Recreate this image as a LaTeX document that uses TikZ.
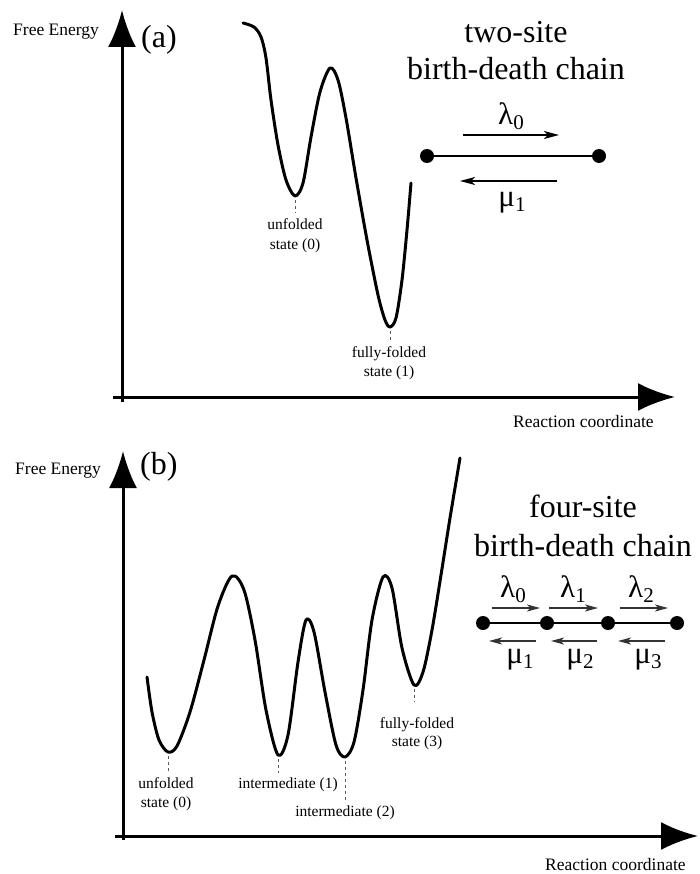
\documentclass[tikz,border=0pt]{standalone}
\usepackage{fontspec}
\setmainfont{Liberation Serif}
\usetikzlibrary{arrows.meta}
\newcommand\lsub[1]{\raisebox{-5pt}{\fontsize{21}{21}\selectfont #1}}
\begin{document}
\begin{tikzpicture}[x=1pt,y=-1pt,
  axis/.style={line width=3pt,-{Latex[length=37pt,width=28pt]}},
  curve/.style={line width=3pt,line join=round,line cap=round},
  guide/.style={gray!70!black,line width=1pt,dash pattern=on 3pt off 3pt},
  axlabel/.style={font=\fontsize{17.5}{20}\selectfont,inner sep=0pt,anchor=base west},
  panel/.style={font=\fontsize{32}{36}\selectfont,inner sep=0pt,anchor=base west},
  state/.style={font=\fontsize{15.5}{19}\selectfont,inner sep=0pt,anchor=base},
  title/.style={font=\fontsize{32}{37}\selectfont,inner sep=0pt,anchor=base},
  rate/.style={font=\fontsize{31}{33}\selectfont,inner sep=0pt,anchor=base},
  site/.style={circle,fill=black,minimum size=14pt,inner sep=0pt},
  chainline/.style={line width=2pt},
  ratearrow/.style={line width=1.1pt,-{Stealth[length=15pt,width=8pt,inset=4pt]}},
  ratearrowb/.style={line width=1.1pt,black!80,-{Stealth[length=13pt,width=7pt,inset=3.5pt]}}
]
\useasboundingbox (0,0) rectangle (699,874);

% ---------------- panel (a) ----------------
\coordinate (aO1) at (122,402);
\coordinate (aY) at (122,10);
\coordinate (aO2) at (113,397);
\coordinate (aX) at (675,397);
\draw[axis] (aO1) -- (aY);
\draw[axis] (aO2) -- (aX);
\node[axlabel] (aFE) at (13,36) {Free Energy};
\node[panel] (aP) at (141,48) {(a)};
\node[axlabel] (aRC) at (513,427) {Reaction coordinate};

\draw[curve] plot[smooth,tension=0.5] coordinates {
 (243,23) (254,27) (261,37) (266,58) (271,100) (278,145) (286,180) (295,196)
 (303,183) (311,137) (320,92) (330,68) (338,80) (346,118) (356,178)
 (367,240) (378,295) (385,320) (390,327) (396,318) (402,280) (407,230) (411,183)};

\coordinate (am0) at (295,200);
\coordinate (am0e) at (295,213);
\draw[guide] (am0) -- (am0e);
\node[state] (aS0a) at (295,230) {unfolded};
\node[state] (aS0b) at (295,250) {state (0)};
\coordinate (am1) at (390,331);
\coordinate (am1e) at (390,343);
\draw[guide] (am1) -- (am1e);
\node[state] (aS1a) at (389,357) {fully-folded};
\node[state] (aS1b) at (389,376) {state (1)};

\node[title] (aT1) at (516,43) {two-site};
\node[title] (aT2) at (516,80) {birth-death chain};

\node[site] (a0) at (427,156) {};
\node[site] (a1) at (599,156) {};
\draw[chainline] (a0) -- (a1);
\coordinate (al0s) at (463,135);
\coordinate (al0e) at (559,135);
\draw[ratearrow] (al0s) -- (al0e);
\coordinate (am1s) at (557,181);
\coordinate (am1t) at (460,181);
\draw[ratearrow] (am1s) -- (am1t);
\node[rate] (aL0) at (511,125) {λ\lsub{0}};
\node[rate] (aM1) at (512,207) {μ\lsub{1}};

% ---------------- panel (b) ----------------
\coordinate (bO1) at (123,840);
\coordinate (bY) at (123,451);
\coordinate (bO2) at (115,836);
\coordinate (bX) at (698,836);
\draw[axis] (bO1) -- (bY);
\draw[axis] (bO2) -- (bX);
\node[axlabel] (bFE) at (15,474) {Free Energy};
\node[panel] (bP) at (140,474) {(b)};
\node[axlabel] (bRC) at (545,870) {Reaction coordinate};

\draw[curve] plot[smooth,tension=0.5] coordinates {
 (147,677) (152,712) (159,740) (168,752) (177,746) (190,712) (204,660)
 (218,606) (232,576) (244,590) (255,640) (266,710) (278,755)
 (288,735) (298,662) (306,620) (314,632) (325,692) (336,745) (345,757)
 (354,742) (363,690) (372,620) (383,577) (392,588) (402,648) (414,685)
 (423,672) (432,630) (441,575) (450,518) (460,458)};

\coordinate (bm0) at (168,756);
\coordinate (bm0e) at (168,772);
\draw[guide] (bm0) -- (bm0e);
\node[state] (bS0a) at (166,788) {unfolded};
\node[state] (bS0b) at (166,807) {state (0)};
\coordinate (bm1) at (278,759);
\coordinate (bm1e) at (278,773);
\draw[guide] (bm1) -- (bm1e);
\node[state] (bS1) at (288,788) {intermediate (1)};
\coordinate (bm2) at (345,761);
\coordinate (bm2e) at (345,803);
\draw[guide] (bm2) -- (bm2e);
\node[state] (bS2) at (345,816) {intermediate (2)};
\coordinate (bm3) at (414,689);
\coordinate (bm3e) at (414,702);
\draw[guide] (bm3) -- (bm3e);
\node[state] (bS3a) at (417,728) {fully-folded};
\node[state] (bS3b) at (417,746) {state (3)};

\node[title] (bT1) at (583,517) {four-site};
\node[title] (bT2) at (583,556) {birth-death chain};

\node[site] (b0) at (483,623) {};
\node[site] (b1) at (547,623) {};
\node[site] (b2) at (608,623) {};
\node[site] (b3) at (677,623) {};
\draw[chainline] (b0) -- (b1) -- (b2) -- (b3);

\coordinate (bl0s) at (492,608); \coordinate (bl0e) at (540,608);
\coordinate (bl1s) at (549,608); \coordinate (bl1e) at (598,608);
\coordinate (bl2s) at (620,608); \coordinate (bl2e) at (668,608);
\draw[ratearrowb] (bl0s) -- (bl0e);
\draw[ratearrowb] (bl1s) -- (bl1e);
\draw[ratearrowb] (bl2s) -- (bl2e);
\coordinate (bu1s) at (536,641); \coordinate (bu1e) at (489,641);
\coordinate (bu2s) at (597,641); \coordinate (bu2e) at (551,641);
\coordinate (bu3s) at (665,641); \coordinate (bu3e) at (618,641);
\draw[ratearrowb] (bu1s) -- (bu1e);
\draw[ratearrowb] (bu2s) -- (bu2e);
\draw[ratearrowb] (bu3s) -- (bu3e);

\node[rate] (bL0) at (513,597) {λ\lsub{0}};
\node[rate] (bL1) at (573,597) {λ\lsub{1}};
\node[rate] (bL2) at (641,597) {λ\lsub{2}};
\node[rate] (bM1) at (520,663) {μ\lsub{1}};
\node[rate] (bM2) at (580,663) {μ\lsub{2}};
\node[rate] (bM3) at (648,663) {μ\lsub{3}};
\end{tikzpicture}
\end{document}
